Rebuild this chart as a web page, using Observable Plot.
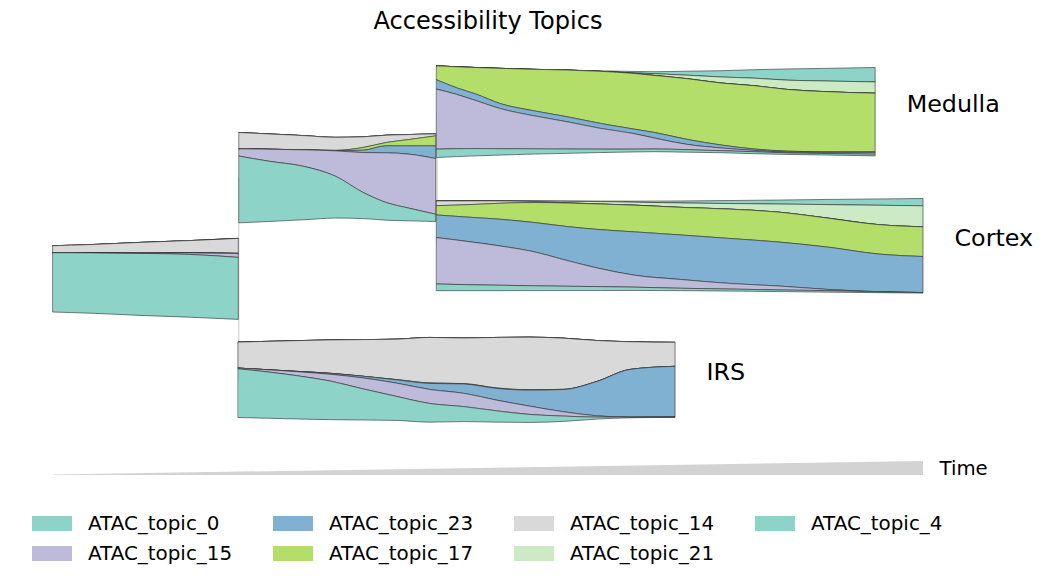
<!DOCTYPE html>
<html><head><meta charset="utf-8">
<script src="https://cdn.jsdelivr.net/npm/d3@7"></script>
<script src="https://cdn.jsdelivr.net/npm/@observablehq/plot@0.6"></script>
<style>
body{margin:0;background:#fff;font-family:"DejaVu Sans",sans-serif;color:#000;}
#title{height:42px;line-height:42px;width:976px;text-align:center;font-size:24.1px;}
#chart{height:455px;}
#legend{padding:11px 0 0 32px;display:grid;grid-template-rows:repeat(2,30px);grid-auto-flow:column;grid-auto-columns:241px;}
.item{display:flex;align-items:center;font-size:19.9px;white-space:nowrap;}
.sw{width:40px;height:15px;margin-right:16px;flex:none;}
</style></head><body>
<div id="title">Accessibility Topics</div>
<div id="chart"></div>
<div id="legend"></div>
<script>
// stacking order, bottom to top
const topics = ["ATAC_topic_0","ATAC_topic_15","ATAC_topic_23","ATAC_topic_17","ATAC_topic_14","ATAC_topic_21","ATAC_topic_4"];
const colors = ["#8dd3c7","#bebada","#80b1d3","#b3de69","#d9d9d9","#ccebc5","#8dd3c7"];

// branch names and their lane centres
const branchNames = ["root","trunk","IRS","Medulla","Cortex"];
const branchLabels = ["","","IRS","Medulla","Cortex"];
const branchCenter = [278.9, 177.7, 379.8, 111.7, 245.8];

// per-branch topic widths along pseudotime
const root = {
  time: [0, 0.043, 0.1, 0.157, 0.213],
  ATAC_topic_0:  [59.3, 60.3, 62, 62.8, 62],
  ATAC_topic_15: [0, 0, 0.3, 1.5, 4],
  ATAC_topic_23: [0, 0, 0, 0, 0],
  ATAC_topic_17: [0, 0, 0, 0, 0],
  ATAC_topic_14: [7, 8.3, 10.7, 12.3, 15],
  ATAC_topic_21: [0, 0, 0, 0, 0],
  ATAC_topic_4:  [0, 0, 0, 0, 0]
};
const trunk = {
  time: [0.214, 0.248, 0.287, 0.325, 0.356, 0.383, 0.409, 0.440],
  ATAC_topic_0:  [66.7, 60.3, 53.7, 41.7, 26.3, 17.7, 12.7, 7.3],
  ATAC_topic_15: [7.3, 12, 16.3, 25.5, 39.7, 49.7, 54, 55.7],
  ATAC_topic_23: [0, 0, 0, 0.3, 2.3, 7, 8.3, 12.7],
  ATAC_topic_17: [0, 0, 0, 0.2, 2.7, 3.3, 6.3, 10],
  ATAC_topic_14: [16.3, 15.3, 14.3, 13, 10.7, 7.3, 5, 2],
  ATAC_topic_21: [0, 0, 0, 0, 0, 0, 0, 0],
  ATAC_topic_4:  [0, 0, 0, 0, 0, 0, 0, 0]
};
const irs = {
  time: [0.213, 0.28, 0.318, 0.357, 0.395, 0.433, 0.472, 0.51, 0.548, 0.587, 0.625, 0.663, 0.715],
  ATAC_topic_0:  [48.7, 43.3, 38.7, 31, 24, 18.7, 15, 11.3, 8, 5.3, 2, 0.7, 0.3],
  ATAC_topic_15: [0.7, 4, 6.7, 11, 13.3, 14, 13.3, 10.7, 8.3, 4.3, 1.3, 0, 0],
  ATAC_topic_23: [0, 0.3, 1, 1.7, 3.3, 6, 9.3, 11.7, 16, 22.3, 34.3, 47.7, 50.7],
  ATAC_topic_17: [0, 0, 0, 0, 0.3, 0.5, 0.4, 0.5, 0.4, 0.2, 0, 0, 0],
  ATAC_topic_14: [26, 30.7, 33.3, 36.7, 40.4, 45.5, 45.6, 50.5, 52.6, 51.1, 41, 27.7, 24],
  ATAC_topic_21: [0, 0, 0, 0, 0, 0, 0, 0, 0, 0, 0, 0, 0],
  ATAC_topic_4:  [0, 0, 0, 0, 0, 0, 0, 0, 0, 0, 0, 0, 0]
};
const medulla = {
  time: [0.441, 0.464, 0.487, 0.514, 0.553, 0.591, 0.629, 0.668, 0.691, 0.729, 0.768, 0.806, 0.844, 0.883, 0.945],
  ATAC_topic_0:  [8.4, 7.9, 7.3, 6.3, 5.2, 4.3, 3.4, 2.8, 2.7, 2.5, 2, 2, 1.5, 1.5, 1.7],
  ATAC_topic_15: [60, 54.3, 47.7, 40.2, 33, 27.3, 20.8, 15.5, 11, 5.3, 2.7, 1.3, 0.8, 1, 1.8],
  ATAC_topic_23: [9.3, 6.6, 6.5, 5, 5, 5, 5, 4.5, 5.6, 5, 3, 1.4, 1, 0.7, 0.5],
  ATAC_topic_17: [14, 21, 26.8, 35.2, 41.5, 46.7, 52, 55.7, 57, 60.7, 62, 63.3, 61.7, 60.3, 58.7],
  ATAC_topic_14: [0, 0, 0, 0, 0, 0, 0, 0, 0, 0, 0, 0, 0, 0, 0],
  ATAC_topic_21: [0, 0, 0, 0, 0, 0, 0, 0.5, 1.7, 3.5, 6, 7.5, 9.3, 10.5, 11.3],
  ATAC_topic_4:  [0, 0, 0, 0, 0, 0, 0.5, 1.5, 2, 4, 6.3, 8.5, 11.2, 12.5, 14.4]
};
const cortex = {
  time: [0.441, 0.476, 0.514, 0.553, 0.591, 0.629, 0.668, 0.721, 0.776, 0.833, 0.891, 0.948, 1.0],
  ATAC_topic_0:  [6.7, 6, 5.4, 4.8, 4.3, 3.9, 3.3, 2.4, 2, 1.6, 1.5, 0.8, 0.5],
  ATAC_topic_15: [46.3, 43.3, 39.3, 34, 25.7, 18, 12, 8.8, 5.7, 4, 1.2, 0.2, 0.1],
  ATAC_topic_23: [22.7, 24.3, 26.7, 29.3, 34, 39, 43.3, 44.5, 45, 44, 42.3, 37.7, 36],
  ATAC_topic_17: [9.3, 12.4, 16, 20, 23.5, 25.6, 26.7, 27.6, 29.3, 29.9, 29, 29.4, 29.7],
  ATAC_topic_14: [4.7, 3.8, 2.3, 1, 0.3, 0, 0, 0, 0, 0, 0, 0, 0],
  ATAC_topic_21: [0, 0, 0, 0.5, 1.5, 2.5, 3, 4.4, 5.5, 8, 13.5, 19.3, 21],
  ATAC_topic_4:  [0, 0, 0, 0, 0.2, 0.5, 1, 2, 3, 4, 5.2, 6.3, 7.3]
};
const branches = [root, trunk, irs, medulla, cortex];

// time arrow
const arrowTime = [0, 1];
const arrowWidth = [0.5, 14];
const arrowBase = 475;

// build stacked rows (centred streams)
const rows = [];
branches.forEach((b, bi) => {
  b.time.forEach((t, i) => {
    const total = d3.sum(topics, k => b[k][i]);
    let y = branchCenter[bi] - total / 2;
    for (let k = topics.length - 1; k >= 0; k--) {
      const w = b[topics[k]][i];
      rows.push({id: branchNames[bi] + "|" + topics[k], topic: topics[k], t, y1: y, y2: y + w});
      y += w;
    }
  });
});

const labels = branches.map((b, bi) => ({t: b.time[b.time.length - 1], y: branchCenter[bi], name: branchLabels[bi]})).filter(d => d.name);
const connectors = [
  {t: root.time[root.time.length - 1], y1: branchCenter[1], y2: branchCenter[2]},
  {t: trunk.time[trunk.time.length - 1] + 0.001, y1: branchCenter[3], y2: branchCenter[4]}
];
const arrowRows = arrowTime.map((t, i) => ({t, y1: arrowBase, y2: arrowBase - arrowWidth[i]}));

const chart = Plot.plot({
  width: 1044, height: 455, margin: 0,
  x: {domain: [0, 1], range: [53, 923], axis: null},
  y: {domain: [42, 497], range: [0, 455], axis: null},
  color: {domain: topics, range: colors},
  style: {fontFamily: "DejaVu Sans", background: "white", overflow: "visible"},
  marks: [
    Plot.ruleX(connectors, {x: "t", y1: "y1", y2: "y2", stroke: "#c8c8c8", strokeWidth: 1}),
    Plot.areaY(rows, {x: "t", y1: "y1", y2: "y2", z: "id", fill: "topic", stroke: "#333", strokeWidth: 0.9, strokeOpacity: 0.7, curve: "monotone-x"}),
    Plot.areaY(arrowRows, {x: "t", y1: "y1", y2: "y2", fill: "#d3d3d3"}),
    Plot.text(labels, {x: "t", y: "y", text: "name", dx: 31, dy: -8, textAnchor: "start", fontSize: 23.8, fill: "black"}),
    Plot.text([{t: arrowTime[1], y: arrowBase - arrowWidth[1] / 2}], {x: "t", y: "y", text: () => "Time", dx: 16, textAnchor: "start", fontSize: 19.7, fill: "black"})
  ]
});
document.getElementById("chart").appendChild(chart);

// legend (column-major, two rows)
const legend = document.getElementById("legend");
topics.forEach((k, i) => {
  const it = document.createElement("div");
  it.className = "item";
  const sw = document.createElement("span");
  sw.className = "sw";
  sw.style.background = colors[i];
  it.appendChild(sw);
  it.appendChild(document.createTextNode(k));
  legend.appendChild(it);
});
</script>
</body></html>
